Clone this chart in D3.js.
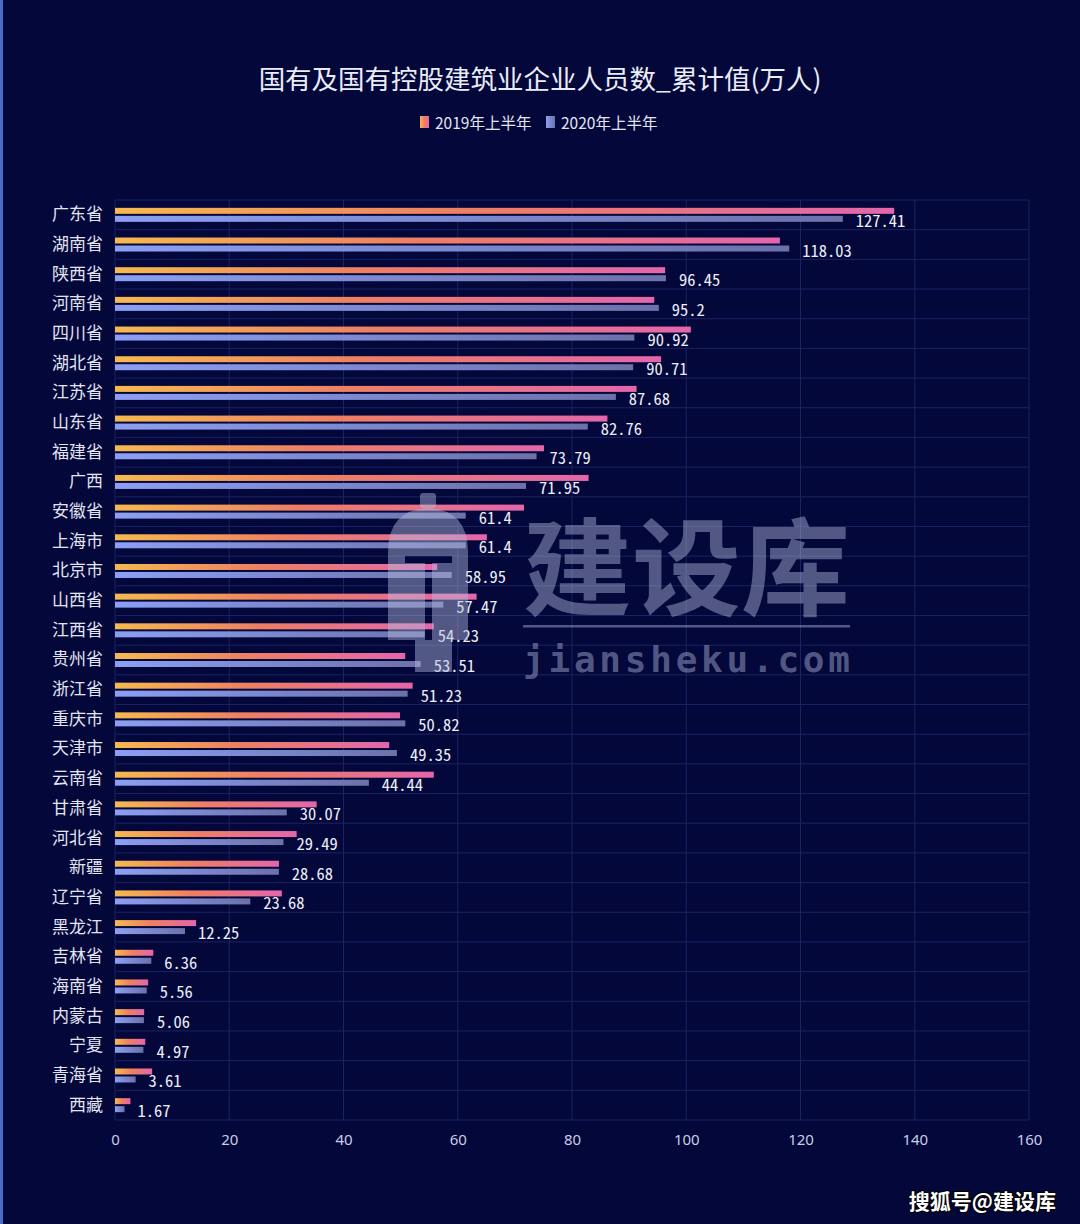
<!DOCTYPE html>
<html><head><meta charset="utf-8">
<script src="https://cdn.jsdelivr.net/npm/d3@7"></script>
<style>
html,body{margin:0;padding:0;background:#03073a;}
svg{display:block;}
</style></head>
<body>
<script>
const categories = ["广东省","湖南省","陕西省","河南省","四川省","湖北省","江苏省","山东省","福建省","广西","安徽省","上海市","北京市","山西省","江西省","贵州省","浙江省","重庆市","天津市","云南省","甘肃省","河北省","新疆","辽宁省","黑龙江","吉林省","海南省","内蒙古","宁夏","青海省","西藏"];
const values2019 = [136.4,116.4,96.3,94.4,100.8,95.6,91.3,86.2,75.1,82.9,71.6,65.1,56.4,63.3,55.8,50.8,52.1,49.9,48.0,55.8,35.3,31.8,28.7,29.2,14.2,6.7,5.8,5.1,5.3,6.5,2.7];
const values2020 = [127.41,118.03,96.45,95.2,90.92,90.71,87.68,82.76,73.79,71.95,61.4,61.4,58.95,57.47,54.23,53.51,51.23,50.82,49.35,44.44,30.07,29.49,28.68,23.68,12.25,6.36,5.56,5.06,4.97,3.61,1.67];
const seriesNames = ["2019年上半年","2020年上半年"];
const xTicks = [0,20,40,60,80,100,120,140,160];
const title = "国有及国有控股建筑业企业人员数_累计值(万人)";

const W = 1080, H = 1224;
const svg = d3.select("body").append("svg").attr("width", W).attr("height", H);
const defs = svg.append("defs");

const g1 = defs.append("linearGradient").attr("id","grad2019").attr("x1","0").attr("x2","1").attr("y1","0").attr("y2","0");
g1.append("stop").attr("offset","0").attr("stop-color","#f6b94e");
g1.append("stop").attr("offset","0.45").attr("stop-color","#ee7f62");
g1.append("stop").attr("offset","1").attr("stop-color","#e366ac");
const g2 = defs.append("linearGradient").attr("id","grad2020").attr("x1","0").attr("x2","1").attr("y1","0").attr("y2","0");
g2.append("stop").attr("offset","0").attr("stop-color","#8c9ff3");
g2.append("stop").attr("offset","1").attr("stop-color","#6c71aa");

svg.append("rect").attr("width",W).attr("height",H).attr("fill","#03073a");
svg.append("rect").attr("x",0).attr("y",0).attr("width",3).attr("height",H).attr("fill","#4a6ec8");

const x = d3.scaleLinear().domain([0,160]).range([115,1029]);
const y = d3.scaleBand().domain(categories).range([200,1120]).padding(0);
const gridColor = "#1a2463";

// horizontal grid lines
const hLines = d3.range(categories.length + 1).map(i => 200 + i * y.step());
svg.append("g").selectAll("line").data(hLines).join("line")
  .attr("x1", x(0)).attr("x2", x(160)).attr("y1", d => d).attr("y2", d => d)
  .attr("stroke", gridColor).attr("stroke-width", 1);
// vertical grid lines
svg.append("g").selectAll("line").data(xTicks).join("line")
  .attr("x1", d => x(d)).attr("x2", d => x(d)).attr("y1", 200).attr("y2", 1120)
  .attr("stroke", gridColor).attr("stroke-width", 1);

// x axis
const xAxis = svg.append("g").attr("transform","translate(0,1120)")
  .call(d3.axisBottom(x).tickValues(xTicks).tickSize(0).tickPadding(14));
xAxis.select(".domain").remove();
xAxis.selectAll("text").attr("fill","#c9cde6").attr("font-size","15px")
  .attr("font-family","'Noto Sans','Noto Sans CJK SC',sans-serif");

// y axis labels
const yAxis = svg.append("g").attr("transform","translate(115,0)")
  .call(d3.axisLeft(y).tickSize(0).tickPadding(12));
yAxis.select(".domain").remove();
yAxis.selectAll("text").attr("fill","#e2e4f2").attr("font-size","17px")
  .attr("font-family","'Noto Sans CJK SC',sans-serif");

const center = c => y(c) + y.bandwidth() / 2;

// bars
svg.append("g").selectAll("rect").data(categories).join("rect")
  .attr("x", x(0)).attr("y", (c) => center(c) - 7)
  .attr("width", (c,i) => x(values2019[i]) - x(0)).attr("height", 6)
  .attr("fill","url(#grad2019)");
svg.append("g").selectAll("rect").data(categories).join("rect")
  .attr("x", x(0)).attr("y", (c) => center(c) + 1)
  .attr("width", (c,i) => x(values2020[i]) - x(0)).attr("height", 6)
  .attr("fill","url(#grad2020)");

// value labels (2020)
svg.append("g").selectAll("text").data(categories).join("text")
  .attr("x", (c,i) => x(values2020[i]) + 13)
  .attr("y", c => center(c) + 5)
  .attr("dominant-baseline","central")
  .attr("fill","#eceef8").attr("font-size","16.5px")
  .attr("font-family","'Noto Sans Mono CJK SC','Noto Sans CJK SC',sans-serif")
  .text((c,i) => values2020[i]);

// title
svg.append("text").attr("x", 540).attr("y", 77).attr("text-anchor","middle")
  .attr("dominant-baseline","central")
  .attr("fill","#eaecf6").attr("font-size","26.5px")
  .attr("font-family","'Noto Sans CJK SC',sans-serif").text(title);

// legend
const legend = svg.append("g");
const legendItems = [{name: seriesNames[0], fill: "url(#grad2019)", x: 420},
                     {name: seriesNames[1], fill: "url(#grad2020)", x: 546}];
legendItems.forEach(it => {
  legend.append("rect").attr("x", it.x).attr("y", 116).attr("width", 9).attr("height", 12).attr("fill", it.fill);
  legend.append("text").attr("x", it.x + 15).attr("y", 122).attr("dominant-baseline","central")
    .attr("fill","#e2e4f2").attr("font-size","15.5px")
    .attr("font-family","'Noto Sans CJK SC',sans-serif").text(it.name);
});

// watermark (site logo)
const wm = svg.append("g").attr("fill","rgba(180,188,222,0.45)");
wm.append("path").attr("fill-rule","evenodd")
  .attr("d","M388,640 V552 Q388,510 428,508 Q468,510 468,552 V640 H452 V672 H415 V640 Z M405,556 H452 V563 H432 V640 H425 V563 H405 Z");
wm.append("rect").attr("x",420).attr("y",493).attr("width",16).attr("height",15).attr("rx",3);
wm.append("text").attr("x",523).attr("y",561).attr("dominant-baseline","central")
  .attr("font-size","106px").attr("font-weight","700")
  .attr("font-family","'Noto Sans CJK SC',sans-serif")
  .attr("textLength",327).attr("lengthAdjust","spacingAndGlyphs").text("建设库");
wm.append("rect").attr("x",523).attr("y",625).attr("width",327).attr("height",2.5);
wm.append("text").attr("x",523).attr("y",672)
  .attr("font-size","36px").attr("font-weight","700")
  .attr("font-family","'DejaVu Sans Mono',monospace")
  .attr("textLength",327).attr("lengthAdjust","spacing").text("jiansheku.com");

// source watermark
svg.append("text").attr("x",1056).attr("y",1200).attr("text-anchor","end")
  .attr("dominant-baseline","central")
  .attr("fill","#ffffff").attr("font-size","21px").attr("font-weight","700")
  .attr("font-family","'Noto Sans CJK SC',sans-serif")
  .style("paint-order","stroke").attr("stroke","#000000").attr("stroke-width",2)
  .text("搜狐号@建设库");
</script>
</body></html>
